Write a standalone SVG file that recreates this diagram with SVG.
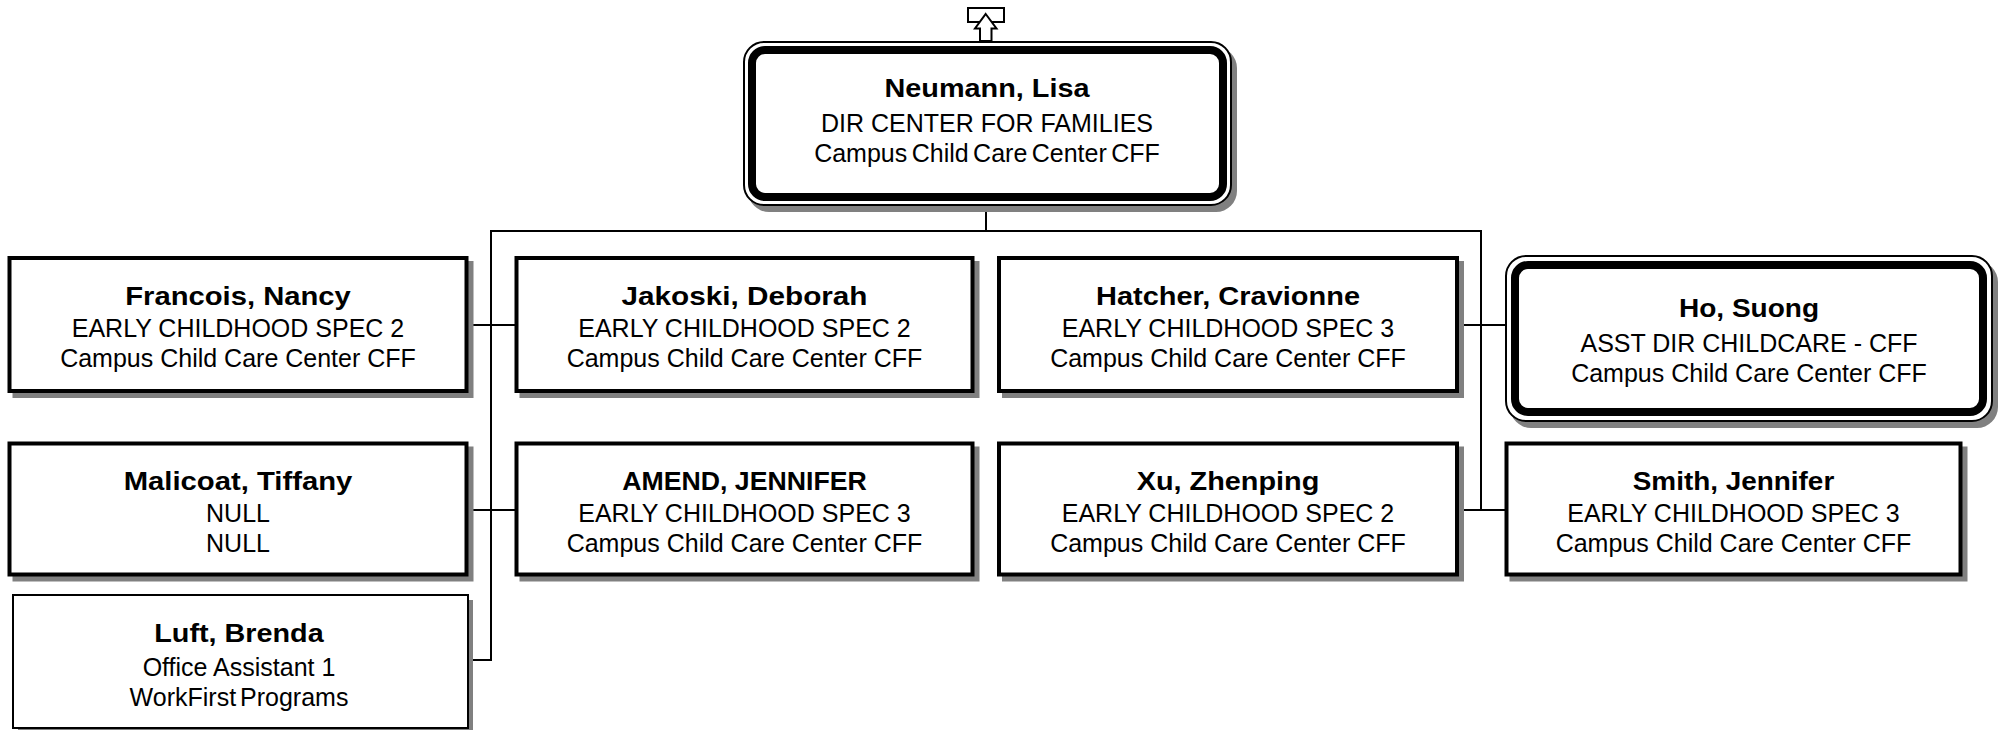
<svg xmlns="http://www.w3.org/2000/svg" width="2011" height="730" viewBox="0 0 2011 730">
<style>
.sh{fill:#808080}
.box{fill:#fff;stroke:#000;stroke-width:4}
.lbox{fill:#fff;stroke:#000;stroke-width:2}
.thin{fill:#fff;stroke:#000;stroke-width:2}
.thick{fill:none;stroke:#000;stroke-width:8}
.nm{font-family:"Liberation Sans",Arial,sans-serif;font-weight:bold;font-size:26.5px;text-anchor:middle;fill:#000}
.tx{font-family:"Liberation Sans",Arial,sans-serif;font-size:25px;text-anchor:middle;fill:#000}
.conn line{stroke:#000;stroke-width:2}
.icon{fill:#fff;stroke:#000;stroke-width:2}
</style>
<rect width="2011" height="730" fill="#fff"/>
<g id="connectors" class="conn">
<line x1="986" y1="205" x2="986" y2="231"/>
<line x1="490" y1="231" x2="1482" y2="231"/>
<line x1="491" y1="231" x2="491" y2="661"/>
<line x1="1481" y1="231" x2="1481" y2="511"/>
<line x1="468" y1="325" x2="515" y2="325"/>
<line x1="468" y1="510" x2="515" y2="510"/>
<line x1="469" y1="660" x2="492" y2="660"/>
<line x1="1459" y1="325" x2="1506" y2="325"/>
<line x1="1459" y1="510" x2="1505" y2="510"/>
</g>
<g id="offpage-icon">
<rect class="icon" x="968" y="8" width="36" height="14"/>
<polygon class="icon" points="985.7,14 996.5,28.5 991.5,28.5 991.5,41 980,41 980,28.5 975,28.5"/>
</g>
<g id="node-neumann">
<rect class="sh" x="748" y="47" width="489" height="165" rx="21"/>
<rect class="thin" x="744" y="42" width="487" height="163" rx="20"/>
<rect class="thick" x="752" y="50" width="471" height="147" rx="13"/>
<text class="nm" x="987" y="96.5" textLength="205" lengthAdjust="spacingAndGlyphs">Neumann, Lisa</text>
<text class="tx" x="987" y="131.5">DIR CENTER FOR FAMILIES</text>
<text class="tx" x="987" y="161.5" word-spacing="-2.5">Campus Child Care Center CFF</text>
</g>
<g id="node-francois">
<rect class="sh" x="12.5" y="261" width="461" height="137"/>
<rect class="box" x="9.5" y="258" width="457" height="133"/>
<text class="nm" x="238" y="305" textLength="225.6" lengthAdjust="spacingAndGlyphs">Francois, Nancy</text>
<text class="tx" x="238" y="336.5">EARLY CHILDHOOD SPEC 2</text>
<text class="tx" x="238" y="366.5">Campus Child Care Center CFF</text>
</g>
<g id="node-jakoski">
<rect class="sh" x="519.5" y="261" width="460" height="137"/>
<rect class="box" x="516.5" y="258" width="456" height="133"/>
<text class="nm" x="744.5" y="305" textLength="246" lengthAdjust="spacingAndGlyphs">Jakoski, Deborah</text>
<text class="tx" x="744.5" y="336.5">EARLY CHILDHOOD SPEC 2</text>
<text class="tx" x="744.5" y="366.5">Campus Child Care Center CFF</text>
</g>
<g id="node-hatcher">
<rect class="sh" x="1002" y="261" width="462" height="137"/>
<rect class="box" x="999" y="258" width="458" height="133"/>
<text class="nm" x="1228" y="305" textLength="264" lengthAdjust="spacingAndGlyphs">Hatcher, Cravionne</text>
<text class="tx" x="1228" y="336.5">EARLY CHILDHOOD SPEC 3</text>
<text class="tx" x="1228" y="366.5">Campus Child Care Center CFF</text>
</g>
<g id="node-ho">
<rect class="sh" x="1510" y="261" width="488" height="167" rx="21"/>
<rect class="thin" x="1506" y="256" width="486" height="165" rx="20"/>
<rect class="thick" x="1515" y="265" width="468" height="147" rx="13"/>
<text class="nm" x="1749" y="316.5" textLength="140" lengthAdjust="spacingAndGlyphs">Ho, Suong</text>
<text class="tx" x="1749" y="351.5">ASST DIR CHILDCARE - CFF</text>
<text class="tx" x="1749" y="381.5">Campus Child Care Center CFF</text>
</g>
<g id="node-malicoat">
<rect class="sh" x="12.5" y="446.5" width="461" height="135"/>
<rect class="box" x="9.5" y="443.5" width="457" height="131"/>
<text class="nm" x="238" y="490" textLength="228.7" lengthAdjust="spacingAndGlyphs">Malicoat, Tiffany</text>
<text class="tx" x="238" y="521.5">NULL</text>
<text class="tx" x="238" y="552">NULL</text>
</g>
<g id="node-amend">
<rect class="sh" x="519.5" y="446.5" width="460" height="135"/>
<rect class="box" x="516.5" y="443.5" width="456" height="131"/>
<text class="nm" x="744.5" y="490" textLength="244.5" lengthAdjust="spacingAndGlyphs">AMEND, JENNIFER</text>
<text class="tx" x="744.5" y="521.5">EARLY CHILDHOOD SPEC 3</text>
<text class="tx" x="744.5" y="551.5">Campus Child Care Center CFF</text>
</g>
<g id="node-xu">
<rect class="sh" x="1002" y="446.5" width="462" height="135"/>
<rect class="box" x="999" y="443.5" width="458" height="131"/>
<text class="nm" x="1228" y="490" textLength="182.5" lengthAdjust="spacingAndGlyphs">Xu, Zhenping</text>
<text class="tx" x="1228" y="521.5">EARLY CHILDHOOD SPEC 2</text>
<text class="tx" x="1228" y="551.5">Campus Child Care Center CFF</text>
</g>
<g id="node-smith">
<rect class="sh" x="1509.5" y="446.5" width="458" height="135"/>
<rect class="box" x="1506.5" y="443.5" width="454" height="131"/>
<text class="nm" x="1733.5" y="490" textLength="201.5" lengthAdjust="spacingAndGlyphs">Smith, Jennifer</text>
<text class="tx" x="1733.5" y="521.5">EARLY CHILDHOOD SPEC 3</text>
<text class="tx" x="1733.5" y="551.5">Campus Child Care Center CFF</text>
</g>
<g id="node-luft">
<rect class="sh" x="18" y="600" width="455" height="133"/>
<rect class="lbox" x="13" y="595" width="455" height="133"/>
<text class="nm" x="239" y="642" textLength="169.4" lengthAdjust="spacingAndGlyphs">Luft, Brenda</text>
<text class="tx" x="239" y="675.5">Office Assistant 1</text>
<text class="tx" x="239" y="705.5" word-spacing="-3">WorkFirst Programs</text>
</g>
</svg>
